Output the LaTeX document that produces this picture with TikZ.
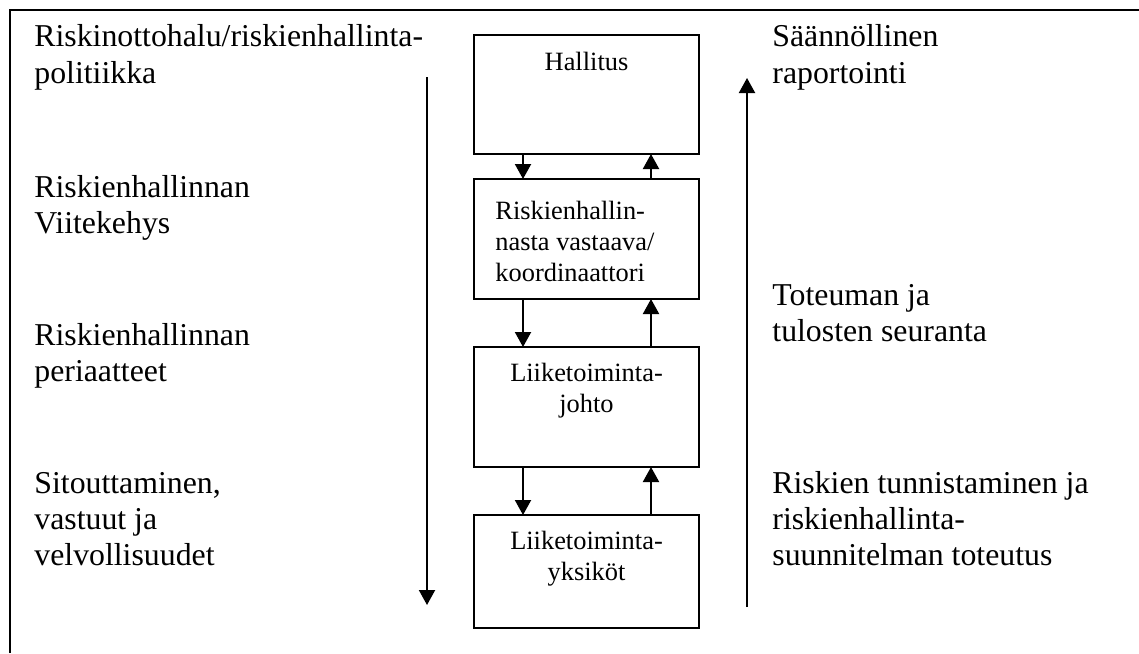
\documentclass[tikz,border=0pt]{standalone}
\usepackage{fontspec}
\setmainfont{Liberation Serif}
\usetikzlibrary{
    arrows.meta,
    positioning,
    calc
}
\tikzset{
    org/.style={
        draw,
        line width=1pt,
        minimum width=112.5pt,
        inner sep=0pt,
        outer sep=0pt
    },
    boxtext/.style={
        font=\fontsize{13.2}{15.5}\selectfont,
        inner sep=0pt
    },
    side/.style={
        font=\fontsize{15.9}{18}\selectfont,
        align=left,
        inner sep=0pt,
        anchor=base west
    },
    flow/.style={
        -{Triangle[length=7.5pt, width=8pt]},
        line width=1pt
    }
}

\begin{document}
\begin{tikzpicture}[x=0.5pt, y=-0.5pt]
        \useasboundingbox (0,0) rectangle (1139,653);

        % Outer frame (open at right and bottom)
        \draw [line width=1pt] (10,653) -- (10,10) -- (1139,10);

        % Organisation boxes
        \node [org, minimum height=59.5pt, anchor=north west] (hallitus) at (474,35) {};
        \node [org, minimum height=60pt, below=12.5pt of hallitus] (vastaava) {};
        \node [org, minimum height=60pt, below=24pt of vastaava] (johto) {};
        \node [org, minimum height=56.5pt, below=24pt of johto] (yksikot) {};

        % Box texts (base = last line)
        \node [boxtext, anchor=base] (hallitus_text) at ([yshift=-17.5pt]hallitus.north) {Hallitus};
        \node [boxtext, align=left, anchor=base west] (vastaava_text) at ([xshift=10.5pt, yshift=-51pt]vastaava.north west) {Riskienhallin-\\nasta vastaava/\\koordinaattori};
        \node [boxtext, align=center, anchor=base] (johto_text) at ([yshift=-32.5pt]johto.north) {Liiketoiminta-\\johto};
        \node [boxtext, align=center, anchor=base] (yksikot_text) at ([yshift=-32.5pt]yksikot.north) {Liiketoiminta-\\yksiköt};

        % Arrows between boxes
        \foreach \upper/\lower in {hallitus/vastaava, vastaava/johto, johto/yksikot}{
            \draw [flow] ([xshift=24.5pt]\upper.south west) -- ([xshift=24.5pt]\lower.north west);
            \draw [flow] ([xshift=88.5pt]\lower.north west) -- ([xshift=88.5pt]\upper.south west);
        }

        % Long arrows
        \coordinate (down_top) at (427,77);
        \coordinate (down_end) at (427,605);
        \coordinate (up_top) at (747,78);
        \coordinate (up_end) at (747,607);
        \draw [flow] (down_top) -- (down_end);
        \draw [flow] (up_end) -- (up_top);

        % Left column
        \node [side] (halu) at (34,83) {Riskinottohalu/riskienhallinta-\\politiikka};
        \node [side] (viitekehys) at (34,233) {Riskienhallinnan\\Viitekehys};
        \node [side] (periaatteet) at (34,381) {Riskienhallinnan\\periaatteet};
        \node [side] (sitoutus) at (34,565) {Sitouttaminen,\\vastuut ja\\velvollisuudet};

        % Right column
        \node [side] (raportointi) at (772,83) {Säännöllinen\\raportointi};
        \node [side] (seuranta) at (772,341) {Toteuman ja\\tulosten seuranta};
        \node [side] (tunnistus) at (772,565) {Riskien tunnistaminen ja\\riskienhallinta-\\suunnitelman toteutus};
    \end{tikzpicture}
\end{document}
